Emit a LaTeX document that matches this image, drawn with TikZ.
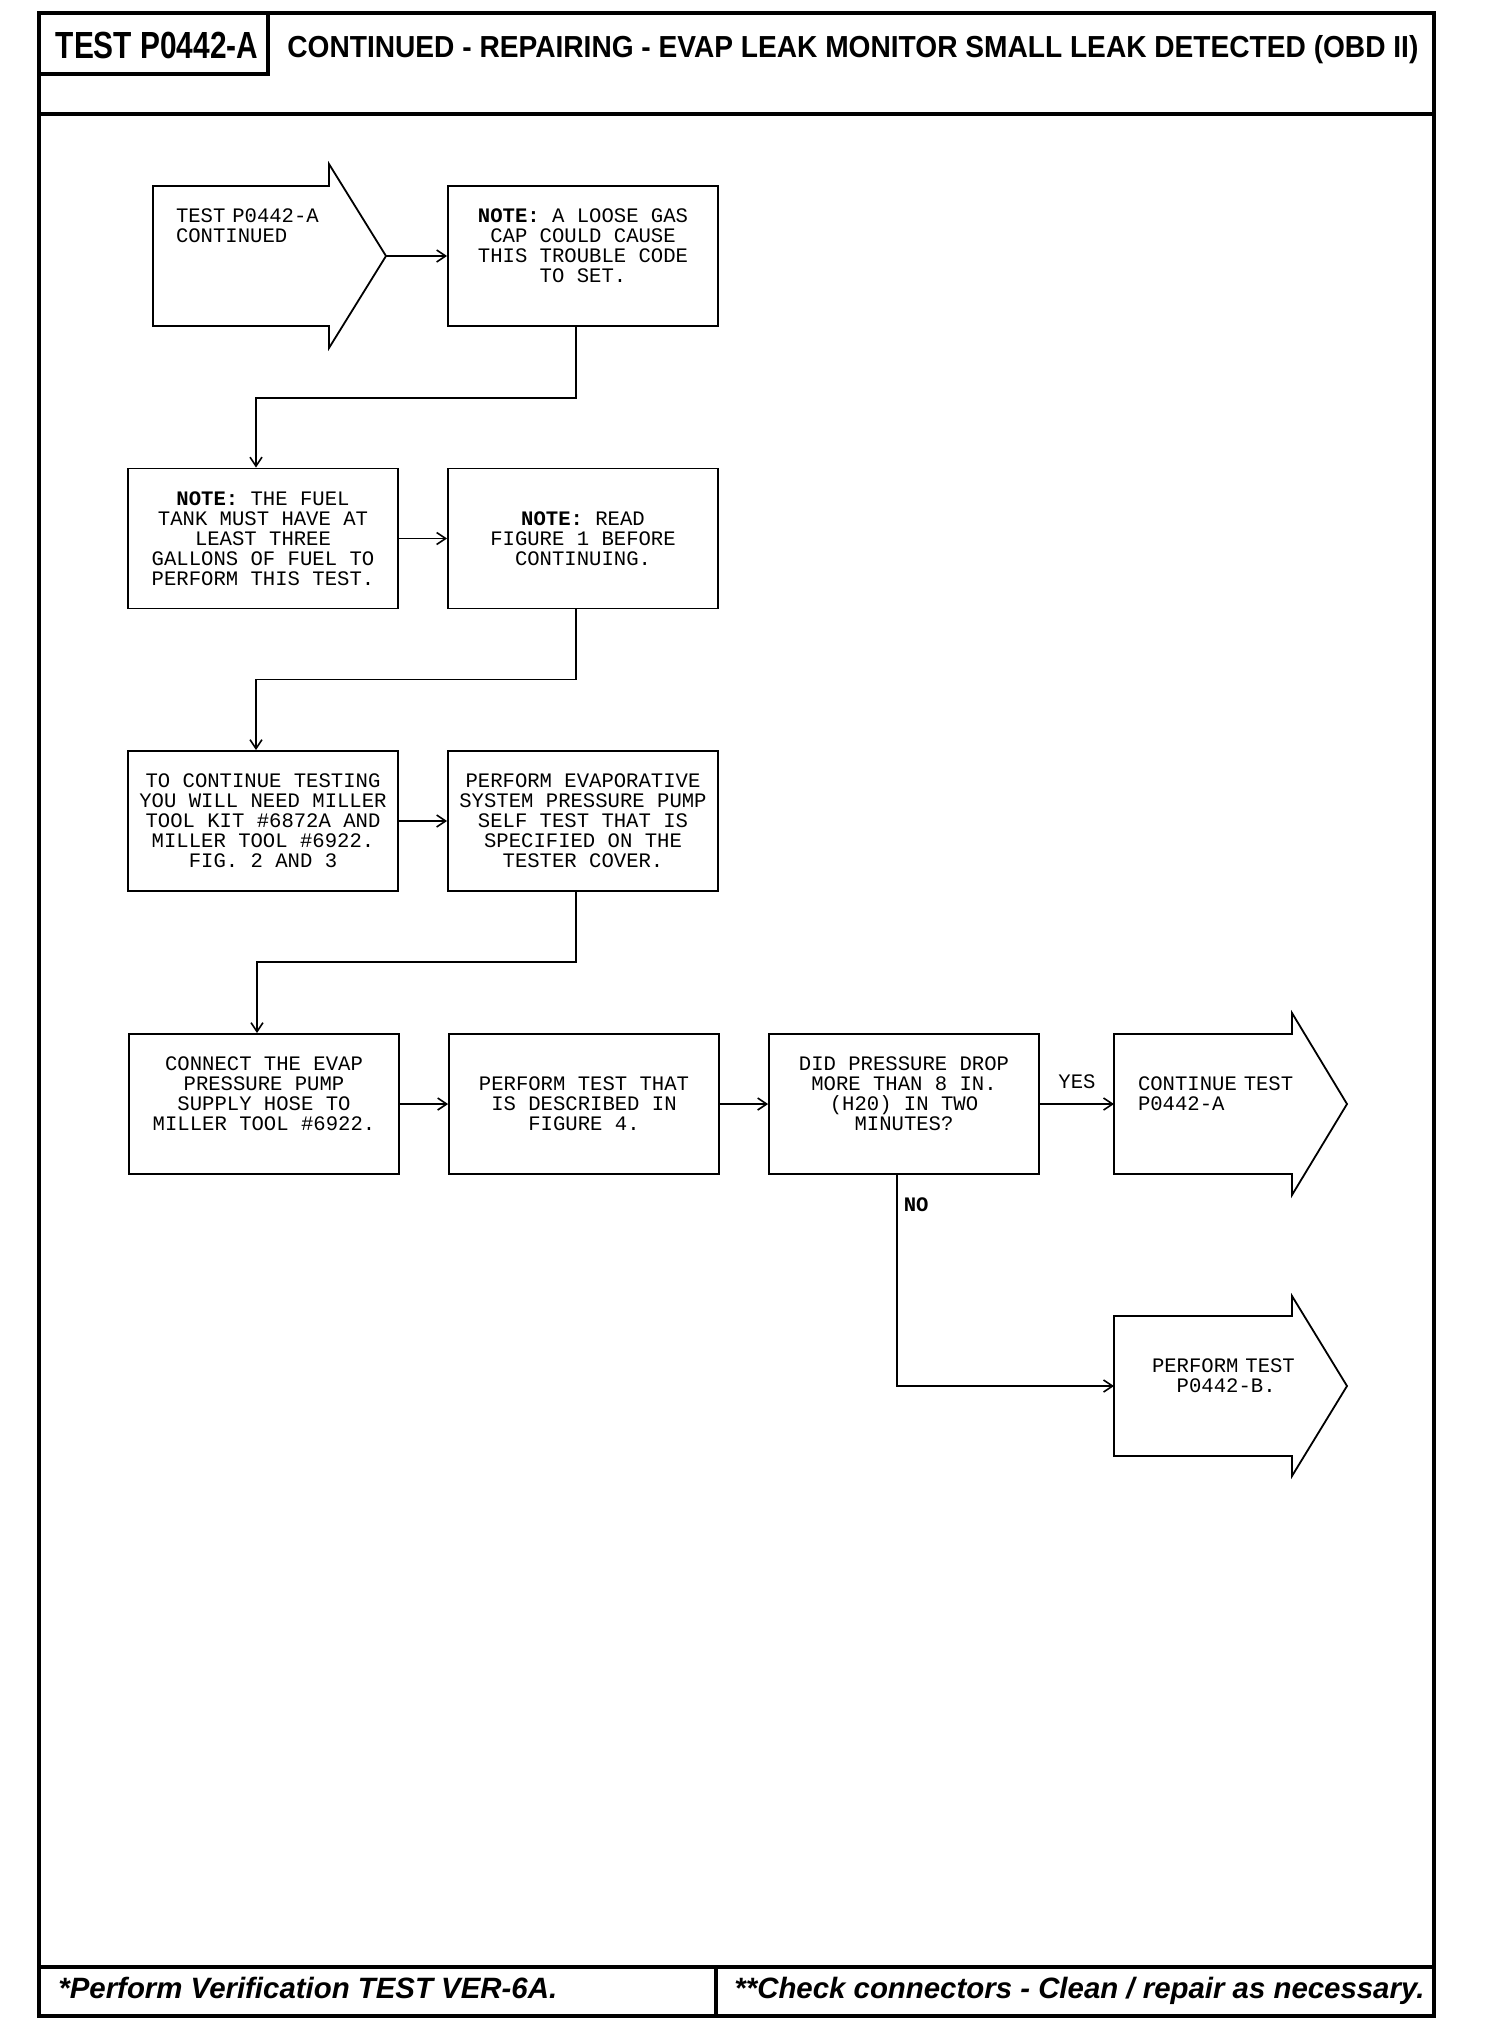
\documentclass[tikz,border=0pt]{standalone}
\usepackage{fontspec}
\setmainfont{Liberation Mono}
\newfontfamily\headfont{Liberation Sans}
\usetikzlibrary{arrows.meta}
\newcommand{\emptyln}{\vphantom{X}}

\begin{document}
\begin{tikzpicture}[
        x=0.5pt, y=-0.5pt,
        frame/.style={line width=1.8pt},
        boxtext/.style={font=\fontsize{10.3}{10}\selectfont},
        stepbox/.style={boxtext, draw, line width=0.9pt, minimum width=135pt, minimum height=70pt, inner sep=0pt, align=center},
        shaft/.style={boxtext, minimum height=70pt, inner ysep=0pt, outer sep=0pt, align=left},
        outline/.style={line width=0.9pt},
        flow/.style={line width=0.8pt, -{Straight Barb[length=4.5pt, width=6pt]}},
        lbl/.style={boxtext, inner sep=3pt},
        hdr/.style={inner sep=0pt},
        foot/.style={font=\headfont\bfseries\itshape\fontsize{14.7}{16}\selectfont, inner sep=0pt}
    ]
    \useasboundingbox (0,0) rectangle (1504,2030);

    % page frame
    \draw[frame] (39,13) rectangle (1434,2016);
    \draw[frame] (39,114) -- (1434,114);
    \draw[frame] (39,74) -- (268,74) -- (268,13);
    \draw[frame] (39,1967) -- (1434,1967);
    \draw[frame] (716,1967) -- (716,2016);

    % header and footer
    \node[hdr, anchor=base, font=\headfont\bfseries\fontsize{18.9}{20}\selectfont] (testid) at (157,58) {\scalebox{0.79}[1]{TEST P0442-A}};
    \node[hdr, anchor=base west, font=\headfont\bfseries\fontsize{15.2}{18}\selectfont] (title) at (287,57) {\scalebox{0.925}[1]{CONTINUED - REPAIRING - EVAP LEAK MONITOR SMALL LEAK DETECTED (OBD II)}};
    \node[foot, anchor=base west] (verify) at (58,1998) {*Perform Verification TEST VER-6A.};
    \node[foot, anchor=base west] (connchk) at (734,1998) {**Check connectors - Clean / repair as necessary.};

    % row 1
    \node[shaft, text width=65pt, inner xsep=11.5pt] (start) at (241,256) {\mbox{TEST P0442-A}\\CONTINUED\\\emptyln\\\emptyln\\\emptyln};
    \coordinate (starttip) at ([xshift=28.5pt]start.east);
    \draw[outline] (start.north west) -- (start.north east) -- ([yshift=11pt]start.north east) -- (starttip)
        -- ([yshift=-11pt]start.south east) -- (start.south east) -- (start.south west) -- cycle;
    \node[stepbox] (note1) at (583,256) {\textbf{NOTE:} A LOOSE GAS\\CAP COULD CAUSE\\THIS TROUBLE CODE\\TO SET.\\\emptyln};

    % row 2
    \node[stepbox] (fuel) at (263,538.5) {\textbf{NOTE:} THE FUEL\\TANK MUST HAVE AT\\LEAST THREE\\GALLONS OF FUEL TO\\PERFORM THIS TEST.};
    \node[stepbox] (readfig) at (583,538.5) {\textbf{NOTE:} READ\\FIGURE 1 BEFORE\\CONTINUING.};

    % row 3
    \node[stepbox] (toolkit) at (263,821) {TO CONTINUE TESTING\\YOU WILL NEED MILLER\\TOOL KIT \#6872A AND\\MILLER TOOL \#6922.\\FIG. 2 AND 3};
    \node[stepbox] (selftest) at (583,821) {PERFORM EVAPORATIVE\\SYSTEM PRESSURE PUMP\\SELF TEST THAT IS\\SPECIFIED ON THE\\TESTER COVER.};

    % row 4
    \node[stepbox] (hose) at (264,1104) {CONNECT THE EVAP\\PRESSURE PUMP\\SUPPLY HOSE TO\\MILLER TOOL \#6922.\\\emptyln};
    \node[stepbox] (fig4) at (584,1104) {PERFORM TEST THAT\\IS DESCRIBED IN\\FIGURE 4.};
    \node[stepbox] (drop) at (904,1104) {DID PRESSURE DROP\\MORE THAN 8 IN.\\(H20) IN TWO\\MINUTES?\\\emptyln};
    \node[shaft, text width=65pt, inner xsep=12pt] (cont) at (1203,1104) {\emptyln\\\mbox{CONTINUE TEST}\\\mbox{P0442-A}\\\emptyln\\\emptyln};
    \coordinate (conttip) at ([xshift=27.5pt]cont.east);
    \draw[outline] (cont.north west) -- (cont.north east) -- ([yshift=10.5pt]cont.north east) -- (conttip)
        -- ([yshift=-10.5pt]cont.south east) -- (cont.south east) -- (cont.south west) -- cycle;

    % row 5
    \node[shaft, text width=51pt, inner xsep=19pt] (p442b) at (1203,1386) {\emptyln\\\mbox{PERFORM TEST}\\\mbox{\hphantom{PE}P0442-B.}\\\emptyln\\\emptyln};
    \coordinate (p442btip) at ([xshift=27.5pt]p442b.east);
    \draw[outline] (p442b.north west) -- (p442b.north east) -- ([yshift=10pt]p442b.north east) -- (p442btip)
        -- ([yshift=-10pt]p442b.south east) -- (p442b.south east) -- (p442b.south west) -- cycle;

    % connectors
    \draw[flow] (starttip) -- (note1.west);
    \draw[flow] ([xshift=-3.5pt]note1.south) -- ++(0,71) -| ([xshift=-3.5pt]fuel.north);
    \draw[flow] (fuel.east) -- (readfig.west);
    \draw[flow] ([xshift=-3.5pt]readfig.south) -- ++(0,70) -| ([xshift=-3.5pt]toolkit.north);
    \draw[flow] (toolkit.east) -- (selftest.west);
    \draw[flow] ([xshift=-3.5pt]selftest.south) -- ++(0,70) -| ([xshift=-3.5pt]hose.north);
    \draw[flow] (hose.east) -- (fig4.west);
    \draw[flow] (fig4.east) -- (drop.west);
    \draw[flow] (drop.east) -- node[lbl, above=4.5pt] (yes) {YES} (cont.west);
    \draw[flow] ([xshift=-3.5pt]drop.south) |- node[lbl, right, pos=0.07] (no) {\bfseries NO} (p442b.west);

\end{tikzpicture}
\end{document}
